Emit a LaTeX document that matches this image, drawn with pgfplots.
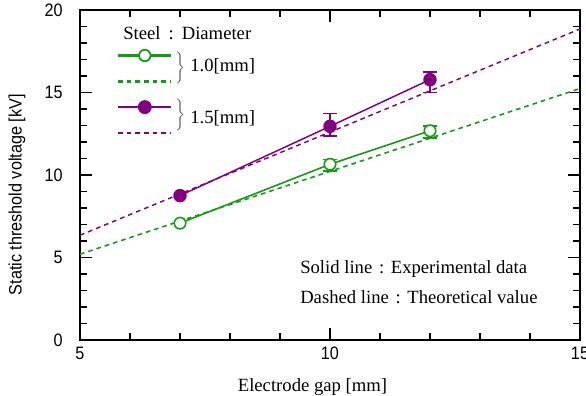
\documentclass[border=0pt]{standalone}
\usepackage{fontspec}
\setmainfont{Liberation Serif}
\newfontfamily\tickfont[FakeStretch=0.9]{Liberation Sans}
\usepackage{pgfplots}
\pgfplotsset{compat=1.18}
\definecolor{cg}{RGB}{20,155,20}
\definecolor{cp}{RGB}{128,0,128}
\newcommand{\bigbrace}{\textcolor{black!70}{$\left.\vcenter{\hbox{\rule{0pt}{24pt}}}\right\}$}}
\begin{document}
\begin{tikzpicture}
\begin{axis}[
  scale only axis, width=375pt, height=247.5pt,
  xmin=5, xmax=15, ymin=0, ymax=20,
  xtick={5,10,15}, ytick={0,5,10,15,20},
  minor tick num=4,
  tick align=inside, major tick length=9pt, minor tick length=5pt,
  axis line style={line width=1.5pt},
  every tick/.style={black, line width=1.2pt},
  /pgf/number format/assume math mode=true,
  ticklabel style={font=\tickfont\fontsize{13.5}{15}\selectfont, inner sep=0pt},
  xticklabel shift=5pt, yticklabel shift=12.75pt,
  xlabel={Electrode gap [mm]},
  xlabel style={font=\fontsize{14}{16}\selectfont, at={(axis description cs:0.465,0)}, anchor=north, yshift=-29pt, inner sep=0pt},
  ylabel={Static threshold voltage [kV]},
  ylabel style={font=\tickfont\fontsize{13.5}{15}\selectfont, at={(axis description cs:-0.126,0.44)}, anchor=center, inner sep=0pt},
  legend style={at={(axis description cs:0.074,0.8795)}, anchor=north west, draw=none, fill=none, inner sep=0pt, outer sep=0pt, row sep=13.85pt, column sep=0pt, nodes={inner sep=0pt, outer sep=0pt}},
]
% green experimental (1.0 mm)
\addplot[forget plot, cg, line width=1.2pt, mark=*, mark size=4.3pt, mark options={fill=white, draw=cg, line width=1.2pt, solid},
  error bars/.cd, y dir=both, y explicit,
  error bar style={line width=1.2pt, solid, cg},
  error mark options={rotate=90, mark size=5pt, line width=1.2pt, cg}]
  coordinates {(7,7.08) (10,10.65) += (0,0.28) -= (0,0.42) (12,12.68) += (0,0.3) -= (0,0.42)};
% green theoretical
\addplot[forget plot, cg, line width=1.2pt, dash pattern=on 3.5pt off 3pt] coordinates {(5,5.2) (15,15.24)};
% purple experimental (1.5 mm)
\addplot[forget plot, cp, line width=1.1pt, mark=*, mark size=4.5pt, mark options={fill=cp, draw=cp, solid},
  error bars/.cd, y dir=both, y explicit,
  error bar style={line width=1.2pt, solid, cp},
  error mark options={rotate=90, mark size=5pt, line width=1.2pt, cp}]
  coordinates {(7,8.75) (10,12.95) += (0,0.77) -= (0,0.6) (12,15.78) += (0,0.45) -= (0,0.78)};
% purple theoretical
\addplot[forget plot, cp, line width=1.1pt, dash pattern=on 3.5pt off 3pt] coordinates {(5,6.35) (15,18.85)};

\addlegendimage{legend image code/.code={
  \draw[cg, line width=1.7pt, mark=*, mark size=4.3pt, mark options={fill=white, draw=cg, line width=1.3pt}, mark repeat=2, mark phase=2]
    plot coordinates {(0pt,12.6pt) (20pt,12.6pt) (40pt,12.6pt)};
  \draw[cg, line width=1.7pt, dash pattern=on 3.5pt off 3pt] (0pt,-6.9pt) -- (40pt,-6.9pt);
}}
\addlegendentry{}
\addlegendimage{legend image code/.code={
  \draw[cp, line width=1.4pt, mark=*, mark size=4.5pt, mark options={fill=cp, draw=cp}, mark repeat=2, mark phase=2]
    plot coordinates {(0pt,12.25pt) (20pt,12.25pt) (40pt,12.25pt)};
  \draw[cp, line width=1.4pt, dash pattern=on 3.5pt off 3pt] (0pt,-7.25pt) -- (40pt,-7.25pt);
}}
\addlegendentry{}

\node[inner sep=0pt] at (axis cs:7.0,16.46) {\bigbrace};
\node[inner sep=0pt] at (axis cs:7.0,13.64) {\bigbrace};
\node[anchor=west, inner sep=0pt, font=\fontsize{14}{16}\selectfont] at (axis cs:7.2,16.56) {1.0[mm]};
\node[anchor=west, inner sep=0pt, font=\fontsize{14}{16}\selectfont] at (axis cs:7.2,13.44) {1.5[mm]};
\node[anchor=west, inner sep=0pt, font=\fontsize{14}{16}\selectfont] at (axis cs:5.86,18.6) {Steel\hspace{6pt}:\hspace{6pt}Diameter};
\node[anchor=west, inner sep=0pt, font=\fontsize{14}{16}\selectfont] at (axis cs:9.4,4.3) {Solid line\hspace{5pt}:\hspace{5pt}Experimental data};
\node[anchor=west, inner sep=0pt, font=\fontsize{14}{16}\selectfont] at (axis cs:9.4,2.6) {Dashed line\hspace{5pt}:\hspace{5pt}Theoretical value};
\end{axis}
\pgfresetboundingbox
\path[use as bounding box] (-60pt,-42pt) rectangle (379.5pt,255pt);
\end{tikzpicture}
\end{document}
